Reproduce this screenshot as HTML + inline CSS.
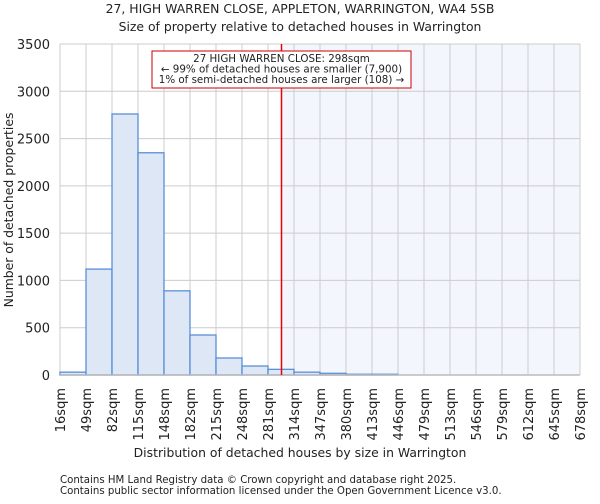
<!DOCTYPE html>
<html><head><meta charset="utf-8"><style>
body{margin:0;background:#fff;font-family:"DejaVu Sans","Liberation Sans",sans-serif;}
svg text{font-family:"DejaVu Sans","Liberation Sans",sans-serif;fill:#222;}
</style></head><body>
<svg id="c" width="600" height="500">
<text x="300" y="13" font-size="12.4" text-anchor="middle">27, HIGH WARREN CLOSE, APPLETON, WARRINGTON, WA4 5SB</text>
<text x="300" y="31" font-size="12.4" text-anchor="middle">Size of property relative to detached houses in Warrington</text>
<g id="plot"></g>
<text x="300" y="457" font-size="12.4" text-anchor="middle">Distribution of detached houses by size in Warrington</text>
<text transform="translate(13,210) rotate(-90)" font-size="12.4" text-anchor="middle">Number of detached properties</text>
<text x="60" y="483" font-size="10.2">Contains HM Land Registry data © Crown copyright and database right 2025.</text>
<text x="60" y="494" font-size="10.2">Contains public sector information licensed under the Open Government Licence v3.0.</text>
</svg>
<script>
const binLabels=["16sqm","49sqm","82sqm","115sqm","148sqm","182sqm","215sqm","248sqm","281sqm","314sqm","347sqm","380sqm","413sqm","446sqm","479sqm","513sqm","546sqm","579sqm","612sqm","645sqm","678sqm"];
const counts=[30,1120,2760,2350,890,423,180,95,60,30,18,8,8,0,0,0,0,0,0,0];
const yTicks=[0,500,1000,1500,2000,2500,3000,3500];
const subjectSize=298;
const NS="http://www.w3.org/2000/svg";
const L=60,R=580,T=44,B=375,ymax=3500;
const bw=(R-L)/counts.length;
const xs=i=>L+i*bw;
const ys=v=>B-(v/ymax)*(B-T);
const binStart=binLabels.map(s=>parseFloat(s));
function xv(v){let i=0;while(i<binStart.length-2&&v>binStart[i+1])i++;return xs(i)+(v-binStart[i])/(binStart[i+1]-binStart[i])*bw;}
const g=document.getElementById('plot');
function mk(t,a){const e=document.createElementNS(NS,t);for(const k in a)e.setAttribute(k,a[k]);g.appendChild(e);return e;}
const sx=Math.round(xv(subjectSize))+0.5;
let sh=mk('rect',{x:sx,y:T,width:R-sx,height:B-T,fill:'#f3f6fd'});


yTicks.forEach(v=>{
 let l=mk('line',{x1:L,x2:R,y1:ys(v),y2:ys(v),stroke:'#ccc'});
 
 
 let t=mk('text',{x:L-10,y:ys(v)+5,'font-size':13,'text-anchor':'end'});t.textContent=v;
 
 
});
binLabels.forEach((s,i)=>{
 let l=mk('line',{x1:xs(i),x2:xs(i),y1:T,y2:B,stroke:'#ccc'});
 
 
 let t=mk('text',{transform:`translate(${xs(i)+5},388) rotate(-90)`,'font-size':13,'text-anchor':'end'});t.textContent=s;
 
 
});
counts.forEach((c,i)=>{
 if(c<=0)return;
 let r=mk('rect',{x:xs(i),y:ys(c),width:bw,height:B-ys(c),fill:'#dde7f5',stroke:'#5b8fd6','stroke-width':1.3});
 
 
});
let ax=mk('line',{x1:L,x2:R,y1:B,y2:B,stroke:'#bbb','stroke-width':1.5});


let rl=mk('rect',{x:sx-0.75,y:T,width:1.5,height:B-T,fill:'#e00'});


let box=mk('rect',{x:152,y:51,width:259,height:37,fill:'#fff',stroke:'#c00'});


["27 HIGH WARREN CLOSE: 298sqm","← 99% of detached houses are smaller (7,900)","1% of semi-detached houses are larger (108) →"].forEach((s,i)=>{
 let t=mk('text',{x:281.5,y:62+i*10.5,'font-size':10.3,'text-anchor':'middle'});t.textContent=s;
 
 
});
</script>
</body></html>
